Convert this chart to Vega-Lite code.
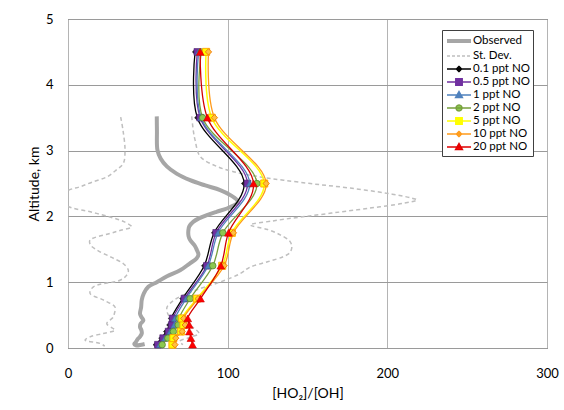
{
  "$schema": "https://vega.github.io/schema/vega-lite/v6.json",
  "width": 479,
  "height": 329,
  "autosize": "none",
  "padding": {"left": 68, "top": 19, "right": 17, "bottom": 62},
  "background": "white",
  "config": {
    "view": {"stroke": "#404040", "strokeWidth": 1},
    "font": "Lato",
    "axis": {
      "labelFont": "Lato", "titleFont": "Lato", "labelColor": "#000000", "titleColor": "#000000",
      "labelFontSize": 13, "titleFontSize": 14, "titleFontWeight": "normal",
      "ticks": false, "domain": false, "grid": true, "labelFlush": false, "labelOverlap": false
    },
    "legend": {
      "orient": "none", "legendX": 374, "legendY": 11, "padding": 3,
      "fillColor": "#ffffff", "strokeColor": "#404040",
      "symbolSize": 144, "labelOffset": 12, "rowPadding": 0,
      "labelFont": "Lato", "labelFontSize": 11.5, "labelColor": "#000000", "symbolLimit": 0
    }
  },
  "datasets": {
    "model": [
      {"s": "0.1 ppt NO", "alt": 0.05, "v": 55}, {"s": "0.1 ppt NO", "alt": 0.15, "v": 58.5}, {"s": "0.1 ppt NO", "alt": 0.25, "v": 61.5}, {"s": "0.1 ppt NO", "alt": 0.35, "v": 63.5}, {"s": "0.1 ppt NO", "alt": 0.45, "v": 64.5}, {"s": "0.1 ppt NO", "alt": 0.75, "v": 71.7}, {"s": "0.1 ppt NO", "alt": 1.25, "v": 85.3}, {"s": "0.1 ppt NO", "alt": 1.75, "v": 91.5}, {"s": "0.1 ppt NO", "alt": 2.5, "v": 110.3}, {"s": "0.1 ppt NO", "alt": 3.5, "v": 81}, {"s": "0.1 ppt NO", "alt": 4.5, "v": 79.6},
      {"s": "0.5 ppt NO", "alt": 0.05, "v": 56.3}, {"s": "0.5 ppt NO", "alt": 0.15, "v": 59.6}, {"s": "0.5 ppt NO", "alt": 0.25, "v": 63}, {"s": "0.5 ppt NO", "alt": 0.35, "v": 65}, {"s": "0.5 ppt NO", "alt": 0.45, "v": 65.6}, {"s": "0.5 ppt NO", "alt": 0.75, "v": 72.9}, {"s": "0.5 ppt NO", "alt": 1.25, "v": 87}, {"s": "0.5 ppt NO", "alt": 1.75, "v": 92.8}, {"s": "0.5 ppt NO", "alt": 2.5, "v": 112.4}, {"s": "0.5 ppt NO", "alt": 3.5, "v": 82.8}, {"s": "0.5 ppt NO", "alt": 4.5, "v": 81},
      {"s": "1 ppt NO", "alt": 0.05, "v": 57.5}, {"s": "1 ppt NO", "alt": 0.15, "v": 60.8}, {"s": "1 ppt NO", "alt": 0.25, "v": 64}, {"s": "1 ppt NO", "alt": 0.35, "v": 66.5}, {"s": "1 ppt NO", "alt": 0.45, "v": 67}, {"s": "1 ppt NO", "alt": 0.75, "v": 74}, {"s": "1 ppt NO", "alt": 1.25, "v": 87.8}, {"s": "1 ppt NO", "alt": 1.75, "v": 94}, {"s": "1 ppt NO", "alt": 2.5, "v": 113.8}, {"s": "1 ppt NO", "alt": 3.5, "v": 83.4}, {"s": "1 ppt NO", "alt": 4.5, "v": 81.8},
      {"s": "2 ppt NO", "alt": 0.05, "v": 59}, {"s": "2 ppt NO", "alt": 0.15, "v": 62.5}, {"s": "2 ppt NO", "alt": 0.25, "v": 66}, {"s": "2 ppt NO", "alt": 0.35, "v": 69}, {"s": "2 ppt NO", "alt": 0.45, "v": 69.5}, {"s": "2 ppt NO", "alt": 0.75, "v": 76.5}, {"s": "2 ppt NO", "alt": 1.25, "v": 90.7}, {"s": "2 ppt NO", "alt": 1.75, "v": 97}, {"s": "2 ppt NO", "alt": 2.5, "v": 118.3}, {"s": "2 ppt NO", "alt": 3.5, "v": 84.3}, {"s": "2 ppt NO", "alt": 4.5, "v": 83.5},
      {"s": "5 ppt NO", "alt": 0.05, "v": 65.4}, {"s": "5 ppt NO", "alt": 0.15, "v": 66}, {"s": "5 ppt NO", "alt": 0.25, "v": 70.7}, {"s": "5 ppt NO", "alt": 0.35, "v": 72.3}, {"s": "5 ppt NO", "alt": 0.45, "v": 71.5}, {"s": "5 ppt NO", "alt": 0.75, "v": 80.7}, {"s": "5 ppt NO", "alt": 1.25, "v": 96.6}, {"s": "5 ppt NO", "alt": 1.75, "v": 102.6}, {"s": "5 ppt NO", "alt": 2.5, "v": 122.9}, {"s": "5 ppt NO", "alt": 3.5, "v": 90}, {"s": "5 ppt NO", "alt": 4.5, "v": 86.5},
      {"s": "10 ppt NO", "alt": 0.05, "v": 67}, {"s": "10 ppt NO", "alt": 0.15, "v": 67.5}, {"s": "10 ppt NO", "alt": 0.25, "v": 71.5}, {"s": "10 ppt NO", "alt": 0.35, "v": 73.4}, {"s": "10 ppt NO", "alt": 0.45, "v": 72.5}, {"s": "10 ppt NO", "alt": 0.75, "v": 81.5}, {"s": "10 ppt NO", "alt": 1.25, "v": 97.8}, {"s": "10 ppt NO", "alt": 1.75, "v": 103.6}, {"s": "10 ppt NO", "alt": 2.5, "v": 124.1}, {"s": "10 ppt NO", "alt": 3.5, "v": 91.7}, {"s": "10 ppt NO", "alt": 4.5, "v": 88},
      {"s": "20 ppt NO", "alt": 0.05, "v": 78}, {"s": "20 ppt NO", "alt": 0.15, "v": 77}, {"s": "20 ppt NO", "alt": 0.25, "v": 76}, {"s": "20 ppt NO", "alt": 0.35, "v": 76}, {"s": "20 ppt NO", "alt": 0.45, "v": 75}, {"s": "20 ppt NO", "alt": 0.75, "v": 83}, {"s": "20 ppt NO", "alt": 1.25, "v": 95.7}, {"s": "20 ppt NO", "alt": 1.75, "v": 100.5}, {"s": "20 ppt NO", "alt": 2.5, "v": 116.2}, {"s": "20 ppt NO", "alt": 3.5, "v": 87.3}, {"s": "20 ppt NO", "alt": 4.5, "v": 82.8}
    ],
    "obs": [
      {"i": 1, "alt": 3.52, "v": 55.6}, {"i": 2, "alt": 3.3, "v": 55.7}, {"i": 3, "alt": 3.01, "v": 56}, {"i": 4, "alt": 2.88, "v": 58}, {"i": 5, "alt": 2.76, "v": 61.9}, {"i": 6, "alt": 2.65, "v": 68}, {"i": 7, "alt": 2.55, "v": 76.5}, {"i": 8, "alt": 2.47, "v": 86}, {"i": 9, "alt": 2.4, "v": 95.3}, {"i": 10, "alt": 2.32, "v": 102}, {"i": 11, "alt": 2.25, "v": 105.8}, {"i": 12, "alt": 2.21, "v": 106.5}, {"i": 13, "alt": 2.17, "v": 104}, {"i": 14, "alt": 2.12, "v": 99.5}, {"i": 15, "alt": 2.07, "v": 93}, {"i": 16, "alt": 2.02, "v": 87}, {"i": 17, "alt": 1.97, "v": 82}, {"i": 18, "alt": 1.92, "v": 78.6}, {"i": 19, "alt": 1.85, "v": 76}, {"i": 20, "alt": 1.79, "v": 75.4}, {"i": 21, "alt": 1.7, "v": 75.5}, {"i": 22, "alt": 1.64, "v": 76.5}, {"i": 23, "alt": 1.55, "v": 79.5}, {"i": 24, "alt": 1.49, "v": 80.7}, {"i": 25, "alt": 1.42, "v": 81.7}, {"i": 26, "alt": 1.36, "v": 80.5}, {"i": 27, "alt": 1.28, "v": 76}, {"i": 28, "alt": 1.18, "v": 70.2}, {"i": 29, "alt": 1.09, "v": 62}, {"i": 30, "alt": 1.0, "v": 55.6}, {"i": 31, "alt": 0.93, "v": 50.3}, {"i": 32, "alt": 0.83, "v": 47.5}, {"i": 33, "alt": 0.73, "v": 46.2}, {"i": 34, "alt": 0.62, "v": 45.8}, {"i": 35, "alt": 0.52, "v": 45.1}, {"i": 36, "alt": 0.47, "v": 46}, {"i": 37, "alt": 0.42, "v": 47.2}, {"i": 38, "alt": 0.37, "v": 45.5}, {"i": 39, "alt": 0.32, "v": 45.1}, {"i": 40, "alt": 0.27, "v": 46}, {"i": 41, "alt": 0.22, "v": 46.2}, {"i": 42, "alt": 0.17, "v": 45}, {"i": 43, "alt": 0.13, "v": 43.5}, {"i": 44, "alt": 0.09, "v": 42.5}, {"i": 45, "alt": 0.06, "v": 41.5}, {"i": 46, "alt": 0.04, "v": 42.5}, {"i": 47, "alt": 0.05, "v": 46}, {"i": 48, "alt": 0.06, "v": 48}
    ],
    "sd": [
      {"t": "L", "i": 1, "alt": 3.51, "v": 33}, {"t": "L", "i": 2, "alt": 3.3, "v": 34.5}, {"t": "L", "i": 3, "alt": 3.01, "v": 35.7}, {"t": "L", "i": 4, "alt": 2.81, "v": 34.7}, {"t": "L", "i": 5, "alt": 2.7, "v": 30}, {"t": "L", "i": 6, "alt": 2.6, "v": 24.3}, {"t": "L", "i": 7, "alt": 2.52, "v": 15}, {"t": "L", "i": 8, "alt": 2.45, "v": 7.5}, {"t": "L", "i": 9, "alt": 2.4, "v": 0.5}, {"t": "L", "i": 10, "alt": 2.27, "v": -8}, {"t": "L", "i": 11, "alt": 2.14, "v": 1.3}, {"t": "L", "i": 12, "alt": 2.07, "v": 14}, {"t": "L", "i": 13, "alt": 1.99, "v": 26.3}, {"t": "L", "i": 14, "alt": 1.92, "v": 35}, {"t": "L", "i": 15, "alt": 1.84, "v": 39.9}, {"t": "L", "i": 16, "alt": 1.79, "v": 33}, {"t": "L", "i": 17, "alt": 1.74, "v": 26.3}, {"t": "L", "i": 18, "alt": 1.64, "v": 13.8}, {"t": "L", "i": 19, "alt": 1.57, "v": 14}, {"t": "L", "i": 20, "alt": 1.49, "v": 18}, {"t": "L", "i": 21, "alt": 1.38, "v": 27}, {"t": "L", "i": 22, "alt": 1.28, "v": 34.7}, {"t": "L", "i": 23, "alt": 1.18, "v": 37.8}, {"t": "L", "i": 24, "alt": 1.1, "v": 36.5}, {"t": "L", "i": 25, "alt": 1.03, "v": 32.6}, {"t": "L", "i": 26, "alt": 0.93, "v": 15.9}, {"t": "L", "i": 27, "alt": 0.83, "v": 13.8}, {"t": "L", "i": 28, "alt": 0.73, "v": 22.1}, {"t": "L", "i": 29, "alt": 0.62, "v": 29.5}, {"t": "L", "i": 30, "alt": 0.52, "v": 29}, {"t": "L", "i": 31, "alt": 0.47, "v": 28.4}, {"t": "L", "i": 32, "alt": 0.37, "v": 24.3}, {"t": "L", "i": 33, "alt": 0.3, "v": 28}, {"t": "L", "i": 34, "alt": 0.27, "v": 29.5}, {"t": "L", "i": 35, "alt": 0.22, "v": 22}, {"t": "L", "i": 36, "alt": 0.17, "v": 13.8}, {"t": "L", "i": 37, "alt": 0.12, "v": 10.7}, {"t": "L", "i": 38, "alt": 0.07, "v": 20}, {"t": "L", "i": 39, "alt": 0.03, "v": 23},
      {"t": "R", "i": 1, "alt": 3.52, "v": 77.5}, {"t": "R", "i": 2, "alt": 3.3, "v": 78.5}, {"t": "R", "i": 3, "alt": 3.16, "v": 79.6}, {"t": "R", "i": 4, "alt": 2.91, "v": 82.8}, {"t": "R", "i": 5, "alt": 2.76, "v": 93.2}, {"t": "R", "i": 6, "alt": 2.68, "v": 103.6}, {"t": "R", "i": 7, "alt": 2.6, "v": 120.4}, {"t": "R", "i": 8, "alt": 2.55, "v": 135}, {"t": "R", "i": 9, "alt": 2.49, "v": 155}, {"t": "R", "i": 10, "alt": 2.43, "v": 176.8}, {"t": "R", "i": 11, "alt": 2.35, "v": 200}, {"t": "R", "i": 12, "alt": 2.28, "v": 215}, {"t": "R", "i": 13, "alt": 2.25, "v": 218.6}, {"t": "R", "i": 14, "alt": 2.2, "v": 210}, {"t": "R", "i": 15, "alt": 2.12, "v": 187.3}, {"t": "R", "i": 16, "alt": 2.05, "v": 165}, {"t": "R", "i": 17, "alt": 1.99, "v": 145.5}, {"t": "R", "i": 18, "alt": 1.93, "v": 128}, {"t": "R", "i": 19, "alt": 1.87, "v": 114.1}, {"t": "R", "i": 20, "alt": 1.8, "v": 125}, {"t": "R", "i": 21, "alt": 1.72, "v": 132.9}, {"t": "R", "i": 22, "alt": 1.62, "v": 139}, {"t": "R", "i": 23, "alt": 1.54, "v": 140.2}, {"t": "R", "i": 24, "alt": 1.45, "v": 139}, {"t": "R", "i": 25, "alt": 1.39, "v": 135}, {"t": "R", "i": 26, "alt": 1.31, "v": 125}, {"t": "R", "i": 27, "alt": 1.23, "v": 114.1}, {"t": "R", "i": 28, "alt": 1.13, "v": 107.8}, {"t": "R", "i": 29, "alt": 1.0, "v": 95}, {"t": "R", "i": 30, "alt": 0.88, "v": 80}, {"t": "R", "i": 31, "alt": 0.78, "v": 70}, {"t": "R", "i": 32, "alt": 0.7, "v": 65}, {"t": "R", "i": 33, "alt": 0.62, "v": 62}, {"t": "R", "i": 34, "alt": 0.52, "v": 62.5}, {"t": "R", "i": 35, "alt": 0.45, "v": 65}, {"t": "R", "i": 36, "alt": 0.38, "v": 72}, {"t": "R", "i": 37, "alt": 0.3, "v": 79}, {"t": "R", "i": 38, "alt": 0.22, "v": 82}, {"t": "R", "i": 39, "alt": 0.16, "v": 76}, {"t": "R", "i": 40, "alt": 0.1, "v": 70}, {"t": "R", "i": 41, "alt": 0.05, "v": 72}
    ]
  },
  "encoding": {
    "x": {"field": "v", "type": "quantitative", "scale": {"domain": [0, 300], "nice": false},
          "axis": {"title": "[HO₂]/[OH]", "values": [0, 100, 200, 300], "gridColor": "#b4b4b4", "labelPadding": 19, "titlePadding": 6}},
    "y": {"field": "alt", "type": "quantitative", "scale": {"domain": [0, 5], "nice": false},
          "axis": {"title": "Altitude, km", "values": [0, 1, 2, 3, 4, 5], "gridColor": "#9a9a9a", "labelPadding": 15, "titlePadding": 4}}
  },
  "layer": [
    {
      "data": {"name": "sd"},
      "mark": {"type": "line", "clip": true, "color": "#bfbfbf", "strokeWidth": 1.5, "strokeDash": [4, 3], "interpolate": "catmull-rom"},
      "encoding": {"detail": {"field": "t"}, "order": {"field": "i"}}
    },
    {
      "data": {"name": "obs"},
      "mark": {"type": "line", "clip": true, "color": "#a6a6a6", "strokeWidth": 4, "interpolate": "catmull-rom"},
      "encoding": {"order": {"field": "i"}}
    },
    {
      "data": {"name": "model"},
      "transform": [{"filter": "datum.s === '0.1 ppt NO'"}],
      "layer": [
        {"mark": {"type": "line", "color": "#000000", "strokeWidth": 1.3, "interpolate": "catmull-rom"}, "encoding": {"order": {"field": "alt"}}},
        {"mark": {"type": "point", "shape": "diamond", "size": 30, "filled": true, "opacity": 1, "fill": "#1a1a1a", "stroke": "#000000", "strokeWidth": 0.5}}
      ]
    },
    {
      "data": {"name": "model"},
      "transform": [{"filter": "datum.s === '0.5 ppt NO'"}],
      "layer": [
        {"mark": {"type": "line", "color": "#7030a0", "strokeWidth": 1.3, "interpolate": "catmull-rom"}, "encoding": {"order": {"field": "alt"}}},
        {"mark": {"type": "point", "shape": "square", "size": 45, "filled": true, "opacity": 1, "fill": "#7030a0", "stroke": "#4b1f6f", "strokeWidth": 0.6}}
      ]
    },
    {
      "data": {"name": "model"},
      "transform": [{"filter": "datum.s === '1 ppt NO'"}],
      "layer": [
        {"mark": {"type": "line", "color": "#4f81bd", "strokeWidth": 1.3, "interpolate": "catmull-rom"}, "encoding": {"order": {"field": "alt"}}},
        {"mark": {"type": "point", "shape": "triangle-up", "size": 45, "filled": true, "opacity": 1, "fill": "#4f81bd", "stroke": "#3a6aa5", "strokeWidth": 0.6}}
      ]
    },
    {
      "data": {"name": "model"},
      "transform": [{"filter": "datum.s === '2 ppt NO'"}],
      "layer": [
        {"mark": {"type": "line", "color": "#77a03c", "strokeWidth": 1.3, "interpolate": "catmull-rom"}, "encoding": {"order": {"field": "alt"}}},
        {"mark": {"type": "point", "shape": "circle", "size": 42, "filled": true, "opacity": 1, "fill": "#8cc850", "stroke": "#4e7a28", "strokeWidth": 0.7}}
      ]
    },
    {
      "data": {"name": "model"},
      "transform": [{"filter": "datum.s === '5 ppt NO'"}],
      "layer": [
        {"mark": {"type": "line", "color": "#ffff00", "strokeWidth": 1.5, "interpolate": "catmull-rom"}, "encoding": {"order": {"field": "alt"}}},
        {"mark": {"type": "point", "shape": "square", "size": 50, "filled": true, "opacity": 1, "fill": "#ffff00", "stroke": "#ffa500", "strokeWidth": 0.9}}
      ]
    },
    {
      "data": {"name": "model"},
      "transform": [{"filter": "datum.s === '10 ppt NO'"}],
      "layer": [
        {"mark": {"type": "line", "color": "#ff9a1a", "strokeWidth": 1.3, "interpolate": "catmull-rom"}, "encoding": {"order": {"field": "alt"}}},
        {"mark": {"type": "point", "shape": "diamond", "size": 40, "filled": true, "opacity": 1, "fill": "#ffc040", "stroke": "#f07800", "strokeWidth": 0.9}}
      ]
    },
    {
      "data": {"name": "model"},
      "transform": [{"filter": "datum.s === '20 ppt NO'"}],
      "layer": [
        {"mark": {"type": "line", "color": "#d40000", "strokeWidth": 1.3, "interpolate": "catmull-rom"}, "encoding": {"order": {"field": "alt"}}},
        {"mark": {"type": "point", "shape": "triangle-up", "size": 60, "filled": true, "opacity": 1, "fill": "#ff0000", "stroke": "#d00000", "strokeWidth": 0.6}}
      ]
    },
    {
      "data": {"name": "model"},
      "transform": [{"filter": "false"}],
      "mark": {"type": "point", "filled": false, "opacity": 1},
      "encoding": {
        "color": {
          "field": "s", "type": "nominal",
          "scale": {
            "domain": ["Observed", "St. Dev.", "0.1 ppt NO", "0.5 ppt NO", "1 ppt NO", "2 ppt NO", "5 ppt NO", "10 ppt NO", "20 ppt NO"],
            "range": ["#a6a6a6", "#bfbfbf", "#000000", "#7030a0", "#4f81bd", "#77a03c", "#ffff00", "#ff9a1a", "#e00000"]
          },
          "legend": {"title": null}
        },
        "fill": {
          "field": "s", "type": "nominal",
          "scale": {
            "domain": ["Observed", "St. Dev.", "0.1 ppt NO", "0.5 ppt NO", "1 ppt NO", "2 ppt NO", "5 ppt NO", "10 ppt NO", "20 ppt NO"],
            "range": ["#a6a6a6", "#bfbfbf", "#1a1a1a", "#7030a0", "#4f81bd", "#8cc850", "#ffff00", "#ffb030", "#ff0000"]
          },
          "legend": {"title": null}
        },
        "strokeDash": {
          "field": "s", "type": "nominal",
          "scale": {
            "domain": ["Observed", "St. Dev.", "0.1 ppt NO", "0.5 ppt NO", "1 ppt NO", "2 ppt NO", "5 ppt NO", "10 ppt NO", "20 ppt NO"],
            "range": [[1, 0], [3, 2], [1, 0], [1, 0], [1, 0], [1, 0], [1, 0], [1, 0], [1, 0]]
          },
          "legend": {"title": null}
        },
        "strokeWidth": {
          "field": "s", "type": "nominal",
          "scale": {
            "type": "ordinal",
            "domain": ["Observed", "St. Dev.", "0.1 ppt NO", "0.5 ppt NO", "1 ppt NO", "2 ppt NO", "5 ppt NO", "10 ppt NO", "20 ppt NO"],
            "range": [4, 1.3, 1.3, 1.3, 1.3, 1.3, 1.3, 1.3, 1.3]
          },
          "legend": {"title": null}
        },
        "shape": {
          "field": "s", "type": "nominal",
          "scale": {
            "domain": ["Observed", "St. Dev.", "0.1 ppt NO", "0.5 ppt NO", "1 ppt NO", "2 ppt NO", "5 ppt NO", "10 ppt NO", "20 ppt NO"],
            "range": [
              "M-1,0H3",
              "M-1,0H3",
              "M-1,0H3M1,-0.45L1.45,0L1,0.45L0.55,0Z",
              "M-1,0H3M0.45,-0.55H1.55V0.55H0.45Z",
              "M-1,0H3M1,-0.6L1.6,0.45H0.4Z",
              "M-1,0H3M1.5,0A0.5,0.5,0,1,1,0.5,0A0.5,0.5,0,1,1,1.5,0Z",
              "M-1,0H3M0.45,-0.55H1.55V0.55H0.45Z",
              "M-1,0H3M1,-0.45L1.45,0L1,0.45L0.55,0Z",
              "M-1,0H3M1,-0.6L1.6,0.45H0.4Z"
            ]
          },
          "legend": {"title": null}
        }
      }
    }
  ]
}
